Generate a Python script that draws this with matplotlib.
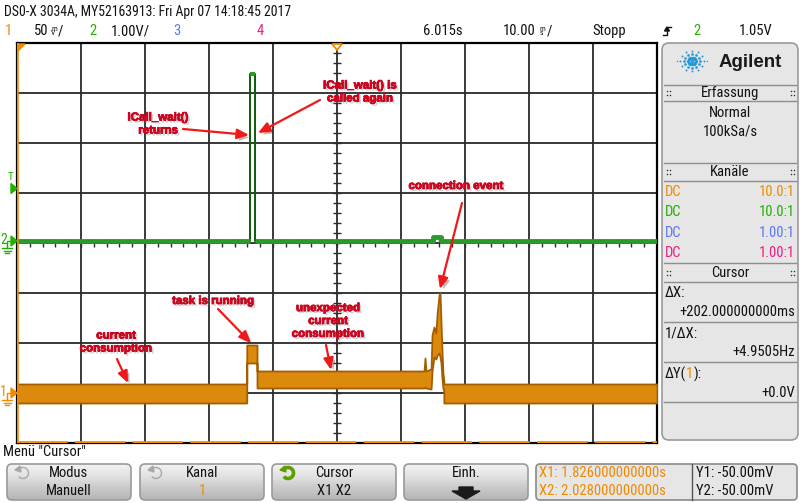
import numpy as np
import matplotlib
matplotlib.use('Agg')
import matplotlib.pyplot as plt
from matplotlib import font_manager
from matplotlib.font_manager import FontProperties
from matplotlib.patches import FancyBboxPatch, Polygon, Arc
from matplotlib.colors import LinearSegmentedColormap
import matplotlib.patheffects as pe

# ---------------- data ----------------
screen_center_s = 6.015
ms_per_div = 10.0
ch1_mV_per_div = 50.0
ch2_V_per_div = 1.0
trig_level_V = 1.05
cursor_y_mV = -50.0

# channel 1 (current, orange): noise envelope
ch1_t_ms = [-50, -14.1, -14.1, -12.5, -12.5, 13.6, 13.75, 13.9, 14.7, 14.85, 15.15,
            15.45, 15.65, 15.95, 16.1, 16.25, 16.4, 16.55, 16.7, 16.7, 50]
ch1_hi_mV = [9, 9, 48, 48, 22, 22, 35, 22, 24, 58, 66, 60, 80, 98, 100, 70, 43, 20, 12, 9, 9]
ch1_lo_mV = [-10, -10, 30, 30, 5, 5, 6, 5, 4, 22, 36, 34, 38, 40, 36, 30, 15, 5, 2, -10, -10]

# channel 2 (GPIO, green)
ch2_t_ms = [-50, -13.6, -13.6, -12.8, -12.8, 15.0, 15.0, 16.2, 16.2, 50]
ch2_V = [0.0, 0.0, 3.35, 3.35, 0.0, 0.0, 0.08, 0.08, 0.0, 0.0]

header_line = "DS0-X 3034A, MY52163913: Fri Apr 07 14:18:45 2017"
acq_mode = ["Normal", "100kSa/s"]
chan_coupling = ["DC", "DC", "DC", "DC"]
chan_probe = ["10.0:1", "10.0:1", "1.00:1", "1.00:1"]
cursor_dx = "+202.000000000ms"
cursor_inv_dx = "+4.9505Hz"
cursor_dy = "+0.0V"
cursor_x = ["X1: 1.826000000000s", "X2: 2.028000000000s"]
cursor_y = ["Y1: -50.00mV", "Y2: -50.00mV"]
softkeys = [("Modus", "Manuell"), ("Kanal", "1"), ("Cursor", "X1 X2"), ("Einh.", "")]
notes = ["ICall_wait()\nreturns", "ICall_wait() is\ncalled again", "connection event",
         "task is running", "unexpected\ncurrent\nconsumption", "current\nconsumption"]

# ---------------- style ----------------
ORANGE = '#F08A00'
GREEN = '#22B000'
BLUE = '#5A78F0'
MAGENTA = '#EE1C86'
RED = '#D8001C'
PANEL = '#E6E6E6'
LINE = '#8E8E8E'

# pick a condensed UI font if one is installed
cond = None
for f in font_manager.fontManager.ttflist:
    fn = f.fname.lower()
    if ('narrow' in fn or 'condensed' in fn) and 'bold' not in fn and 'oblique' not in fn \
            and 'italic' not in fn and 'light' not in fn and 'mono' not in fn and 'serif' not in fn:
        cond = f.fname
        if 'liberation' in fn:
            break
if cond:
    FS = 10.5
    HS = 9.9
    def FP(size):
        return FontProperties(fname=cond, size=size)
else:
    FS = 8.8
    HS = 8.6
    def FP(size):
        return FontProperties(family='Liberation Sans', size=size)

ch1_pos = -3.0
ch2_pos = 0.04

fig = plt.figure(figsize=(8, 5.03), dpi=100)
fig.patch.set_facecolor('white')

# ---------------- scope screen ----------------
ax = fig.add_axes([17 / 800, 60 / 503, 640 / 800, 400 / 503], zorder=2)
ax.set_xlim(-5 * ms_per_div, 5 * ms_per_div)
ax.set_ylim(-4, 4)
ax.set_xticks(np.arange(-50, 51, 10))
ax.set_yticks(np.arange(-4, 5, 1))
ax.grid(True, color='#2a2a2a', lw=1.3)
ax.tick_params(length=0, labelbottom=False, labelleft=False)
for s in ax.spines.values():
    s.set_linewidth(1.6)
    s.set_color('black')
ax.hlines(np.arange(-4, 4.01, 0.2), -0.6, 0.6, color='#2a2a2a', lw=1.0)
ax.vlines(np.arange(-50, 50.1, 2), -0.08, 0.08, color='#2a2a2a', lw=1.0)

t1 = np.array(ch1_t_ms)
hi = ch1_pos + np.array(ch1_hi_mV) / ch1_mV_per_div
lo = ch1_pos + np.array(ch1_lo_mV) / ch1_mV_per_div
ax.fill_between(t1, lo, hi, facecolor='#DC8A0C', edgecolor='#A45E00', lw=1.3, zorder=4)

t2 = np.array(ch2_t_ms)
v2 = ch2_pos + np.array(ch2_V) / ch2_V_per_div
ax.plot(t2, v2, color='#0E5A0E', lw=1.4, zorder=5)
ax.plot(t2, np.ma.masked_where(np.array(ch2_V) > 1, v2), color='#2A9A2A', lw=3.5,
        solid_capstyle='butt', zorder=6)
ax.plot(t2, np.ma.masked_where(np.array(ch2_V) < 3, v2), color='#2A9A2A', lw=3,
        solid_capstyle='butt', zorder=6)

ax.axvline(-50, color=ORANGE, lw=1.8, zorder=7)
ax.axhline(ch1_pos + cursor_y_mV / ch1_mV_per_div, color=ORANGE, lw=2.6,
           dashes=(14, 2), zorder=7)

# ---------------- overlay in pixel coordinates ----------------
ov = fig.add_axes([0, 0, 1, 1], zorder=5)
ov.patch.set_alpha(0)
ov.axis('off')


def reset():
    ov.set_xlim(0, 800)
    ov.set_ylim(503, 0)


reset()


def txt(x, y, s, c='#111111', ha='left', size=None, **kw):
    return ov.text(x, y, s, color=c, ha=ha, va='center',
                   fontproperties=FP(size if size else FS), **kw)


# header
txt(4, 12, header_line, size=HS)
txt(5, 31, "1", ORANGE)
txt(34, 31, "50")
txt(51, 31, "m\nV", size=5.5, linespacing=0.75)
txt(58, 31, "/")
txt(89, 31, "2", GREEN)
txt(111, 31, "1.00V/")
txt(173, 31, "3", BLUE)
txt(257, 31, "4", MAGENTA)
txt(423, 31, "6.015s")
txt(503, 31, "10.00")
txt(540, 31, "m\ns", size=5.5, linespacing=0.75)
txt(547, 31, "/")
txt(592, 31, "Stopp")
ov.plot([663, 667, 667, 671], [35, 35, 27, 27], color='#111', lw=1)
ov.add_patch(Polygon([[664.5, 31], [669.5, 31], [667, 27]], closed=True, color='#111'))
txt(693, 31, "2", GREEN)
txt(739, 31, "1.05V")

# markers on the screen edge
ov.add_patch(Polygon([[18, 44], [25, 44], [18, 51]], closed=True, color=ORANGE))
ov.add_patch(Polygon([[332, 44], [342, 44], [337, 50]], closed=True, fc='white',
                     ec=ORANGE, lw=1.3))
trig_y = 243 - 50 * (ch2_pos + trig_level_V / ch2_V_per_div)
txt(8, trig_y - 11, "T", GREEN, size=8)
ov.add_patch(Polygon([[11, trig_y - 5], [17, trig_y], [11, trig_y + 5]], closed=True, color=GREEN))
for (yy, lab, col) in [(243 - 50 * ch2_pos, "2", GREEN), (243 - 50 * ch1_pos, "1", ORANGE)]:
    txt(0, yy - 1, lab, col, size=10)
    ov.plot([7, 7, 11], [yy + 4, yy, yy], color=col, lw=1)
    ov.add_patch(Polygon([[11, yy - 5], [17, yy], [11, yy + 5]], closed=True, color=col))
    ov.plot([7, 7], [yy + 4, yy + 7], color=col, lw=1)
    for k, w in enumerate([5, 3.5, 2]):
        ov.plot([7 - w, 7 + w], [yy + 7 + 2.5 * k] * 2, color=col, lw=1)

# annotations
note_pos = [(158, 124), (360, 92), (456, 186), (213, 301), (328, 321), (116, 342)]
arrows = [((183, 129), (249, 135)), ((320, 100), (258, 133)), ((462, 203), (440, 289)),
          ((218, 309), (251, 343)), ((326, 345), (331, 370)), ((117, 359), (128, 383))]
shadow = [pe.SimplePatchShadow(offset=(1.5, -1.5), shadow_rgbFace='#777777', alpha=0.35),
          pe.Normal()]
for s, (x, y) in zip(notes, note_pos):
    ov.text(x, y, s, color=RED, ha='center', va='center', fontsize=8.3,
            family='Liberation Sans', weight='bold', linespacing=1.1,
            path_effects=[pe.withStroke(linewidth=0.6, foreground='#B00018')] + shadow)
for (a, b) in arrows:
    ov.annotate('', xy=b, xytext=a,
                arrowprops=dict(arrowstyle='-|>,head_length=0.7,head_width=0.3',
                                color='#F01818', lw=1.6, shrinkA=0, shrinkB=0,
                                path_effects=[pe.SimplePatchShadow(offset=(2, -2), alpha=0.3),
                                              pe.Normal()]))

# ---------------- right panel ----------------
ov.add_patch(FancyBboxPatch((662, 43), 136, 397, boxstyle='round,pad=0,rounding_size=7',
                            fc=PANEL, ec='#9a9a9a', lw=1.2))
for yy in [85, 101, 163, 181, 263, 282, 322, 362, 402]:
    ov.plot([664, 796], [yy, yy], color=LINE, lw=1)
# logo
cx, cy = 692, 61
for ang in range(0, 360, 30):
    r_list = [4, 8, 12] if ang % 180 else [4, 8, 12, 15]
    for k, r in enumerate(r_list):
        ov.plot(cx + r * np.cos(np.radians(ang)), cy + 0.85 * r * np.sin(np.radians(ang)),
                'o', color='#2898D4', ms=max(2.4 - 0.5 * k, 1.0), mec='none')
ov.plot(cx, cy, 'o', color='#2898D4', ms=2.5, mec='none')
ov.text(750, 62, "Agilent", ha='center', va='center', fontsize=13.5, weight='bold',
        family='Liberation Sans', color='#1a1a1a')


def handles(yc):
    for xx in (667, 791):
        ov.plot([xx, xx + 3, xx, xx + 3], [yc - 2, yc - 2, yc + 2, yc + 2], 'o', color='#333',
                ms=1.1, mec='none', ls='none')


txt(730, 93, "Erfassung", ha='center')
handles(93)
txt(730, 113, acq_mode[0], ha='center')
txt(730, 132, acq_mode[1], ha='center')
txt(730, 172, "Kanäle", ha='center')
handles(172)
for k, (cpl, pr, col) in enumerate(zip(chan_coupling, chan_probe, [ORANGE, GREEN, BLUE, MAGENTA])):
    yy = 192 + 20.3 * k
    txt(665, yy, cpl, col)
    txt(795, yy, pr, col, ha='right')
txt(730, 273, "Cursor", ha='center')
handles(273)
txt(665, 293, "ΔX:")
txt(795, 312, cursor_dx, ha='right')
txt(665, 333, "1/ΔX:")
txt(795, 352, cursor_inv_dx, ha='right')
fig.canvas.draw()
r = fig.canvas.get_renderer()
t_a = txt(665, 374, "ΔY(")
x1 = t_a.get_window_extent(r).x1
t_b = txt(x1, 374, "1", ORANGE)
x2 = t_b.get_window_extent(r).x1
txt(x2, 374, "):")
txt(795, 393, cursor_dy, ha='right')

# ---------------- bottom softkeys ----------------
txt(3, 452, 'Menü "Cursor"')
cmap = LinearSegmentedColormap.from_list('btn', ['#F2F2F2', '#E2E2E2', '#CACACA', '#B4B4B4'])
grad = np.linspace(0, 1, 64).reshape(-1, 1)
btn_x = [7, 140, 272, 404]
for k, (bx, (l1, l2)) in enumerate(zip(btn_x, softkeys)):
    p = FancyBboxPatch((bx, 464), 124, 36, boxstyle='round,pad=0,rounding_size=5',
                       fc='none', ec='#9a9a9a', lw=1.2, zorder=3)
    ov.add_patch(p)
    im = ov.imshow(grad, extent=[bx, bx + 124, 500, 464], cmap=cmap, aspect='auto',
                   origin='upper', zorder=2)
    im.set_clip_path(p)
    cxb = bx + 62
    txt(cxb, 473, l1, ha='center', zorder=4)
    if l2:
        txt(cxb, 491, l2, ORANGE if l2 == "1" else '#111111', ha='center', zorder=4)
reset()
# knob icons
for bx, col, lw in [(7, '#A8A8A8', 1.0), (140, '#A8A8A8', 1.0), (272, '#5AA000', 2.6)]:
    ov.add_patch(Arc((bx + 16, 473), 11, 11, theta1=200, theta2=500, color=col, lw=lw, zorder=5))
    ov.add_patch(Polygon([[bx + 8, 470], [bx + 13, 466], [bx + 14, 472]], closed=True,
                         color=col, zorder=5))
ov.add_patch(Polygon([[459, 487], [473, 487], [473, 491], [480, 491], [466, 499],
                      [452, 491], [459, 491]], closed=True, color='#1a1a1a', zorder=5))

# cursor readout box
ov.add_patch(FancyBboxPatch((536, 464), 261, 36, boxstyle='round,pad=0,rounding_size=4',
                            fc=PANEL, ec='#8a8a8a', lw=1.2, zorder=2))
ov.plot([692, 692], [464, 500], color='#555', lw=1, zorder=3)
txt(539, 473, cursor_x[0], ORANGE, zorder=4)
txt(539, 491, cursor_x[1], ORANGE, zorder=4)
txt(696, 473, cursor_y[0], zorder=4)
txt(696, 491, cursor_y[1], zorder=4)
reset()

fig.savefig('out.png', dpi=100)
